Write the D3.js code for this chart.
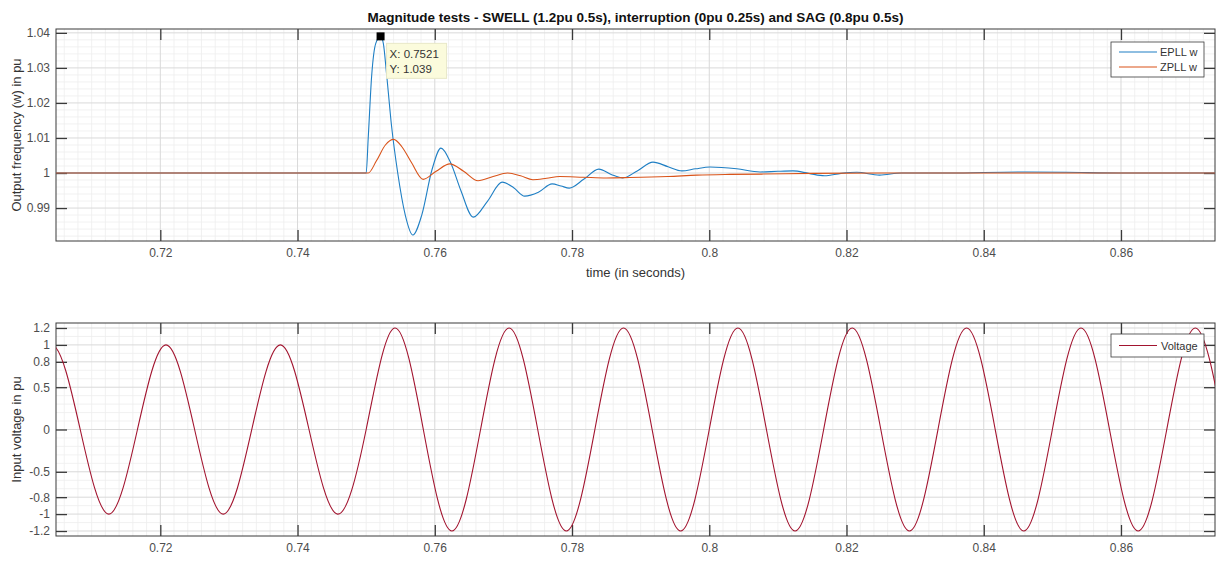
<!DOCTYPE html>
<html>
<head>
<meta charset="utf-8">
<script src="https://cdn.jsdelivr.net/npm/d3@7"></script>
<style>
  body { margin: 0; background: #fff; }
  svg { display: block; font-family: "Liberation Sans", Arial, sans-serif; }
</style>
</head>
<body>
<svg id="chart" width="1216" height="565"></svg>
<script>
// ---- data ----
const xDomain = [0.7048, 0.8737];
const xTicks = [0.72, 0.74, 0.76, 0.78, 0.8, 0.82, 0.84, 0.86];

const freqTicks = [0.99, 1, 1.01, 1.02, 1.03, 1.04];
const voltTicks = [-1.2, -1, -0.8, -0.5, 0, 0.5, 0.8, 1, 1.2];

const epllT = [0.7048, 0.7500, 0.7503, 0.7508, 0.7514, 0.7521, 0.7525, 0.7530, 0.7537, 0.7546, 0.7557, 0.7568,
    0.7581, 0.7596, 0.7609, 0.7623, 0.7638, 0.7656, 0.7677, 0.7698, 0.7715, 0.7731, 0.7751, 0.7771, 0.7784,
    0.7796, 0.7817, 0.7839, 0.7857, 0.7874, 0.7895, 0.7918, 0.7940, 0.7960, 0.7980, 0.8001, 0.8040, 0.8074,
    0.8100, 0.8122, 0.8145, 0.8168, 0.8192, 0.8215, 0.8248, 0.8280, 0.8350, 0.8450, 0.8520, 0.8600, 0.8737];
const epllW = [1, 1, 1.010, 1.0277, 1.037, 1.039, 1.037, 1.0277, 1.0134, 1.000, 0.9880, 0.9823,
    0.9880, 1.0010, 1.0071, 1.0030, 0.9950, 0.9874, 0.9920, 0.9974, 0.9958, 0.9934, 0.9945, 0.9969, 0.9963,
    0.9957, 0.9982, 1.0011, 0.9996, 0.9986, 1.0006, 1.0031, 1.0018, 1.0006, 1.0012, 1.0017, 1.0012, 1.0003,
    1.0005, 1.0006, 0.9999, 0.9992, 0.9999, 1.0002, 0.9994, 1.0000, 1.0000, 1.0003, 1.0002, 1.0000, 1.0000];

const zpllT = [0.7048, 0.7503, 0.7515, 0.7528, 0.7540, 0.7552, 0.7566, 0.7583, 0.7602, 0.7622, 0.7642, 0.7663,
    0.7685, 0.7706, 0.7725, 0.7743, 0.7763, 0.7782, 0.7816, 0.7850, 0.7884, 0.7940, 0.7982, 0.8030, 0.8078,
    0.8150, 0.8250, 0.8737];
const zpllW = [1, 1, 1.0035, 1.0080, 1.0096, 1.0075, 1.0030, 0.9982, 1.0005, 1.0026, 1.0005, 0.9978,
    0.9990, 1.0000, 0.9992, 0.9981, 0.9985, 0.9990, 0.9988, 0.9986, 0.9987, 0.9990, 0.9994, 0.9996, 0.9997,
    0.9999, 1.0000, 1.0000];

// voltage: peaks, troughs and zero crossings (60 Hz, swell to 1.2 pu after 0.75 s)
const voltT = [0.70000, 0.70417, 0.70833, 0.71250, 0.71667, 0.72083, 0.72500, 0.72917, 0.73333, 0.73750,
    0.74167, 0.74583, 0.75000, 0.75417, 0.75833, 0.76250, 0.76667, 0.77083, 0.77500, 0.77917, 0.78333,
    0.78750, 0.79167, 0.79583, 0.80000, 0.80417, 0.80833, 0.81250, 0.81667, 0.82083, 0.82500, 0.82917,
    0.83333, 0.83750, 0.84167, 0.84583, 0.85000, 0.85417, 0.85833, 0.86250, 0.86667, 0.87083, 0.87500];
const voltV = [0, 1, 0, -1, 0, 1, 0, -1, 0, 1,
    0, -1, 0, 1.2, 0, -1.2, 0, 1.2, 0, -1.2, 0,
    1.2, 0, -1.2, 0, 1.2, 0, -1.2, 0, 1.2, 0, -1.2,
    0, 1.2, 0, -1.2, 0, 1.2, 0, -1.2, 0, 1.2, 0];

const tipX = 0.7521, tipY = 1.039;

// ---- layout ----
const svg = d3.select("#chart");
const L = 56, R = 1215;
const TOP = { y0: 29, y1: 241, dom: [0.9806, 1.0411] };
const BOT = { y0: 323, y1: 536, dom: [-1.259, 1.259] };
const TICK = 11;
const fmt = d => String(+d.toFixed(3));

const x = d3.scaleLinear().domain(xDomain).range([L, R]);

function panel(p, yTicks, yMinorStep, id) {
    const y = d3.scaleLinear().domain(p.dom).range([p.y1, p.y0]);
    const g = svg.append("g");

    // minor grid
    const xMinor = d3.range(0.706, 0.874, 0.002).filter(v => Math.abs(v * 50 - Math.round(v * 50)) > 1e-6);
    const yMinor = d3.range(Math.ceil(p.dom[0] / yMinorStep) * yMinorStep, p.dom[1], yMinorStep)
        .filter(v => !yTicks.some(t => Math.abs(t - v) < yMinorStep / 3));
    g.selectAll(".xm").data(xMinor).join("line")
        .attr("x1", d => x(d)).attr("x2", d => x(d)).attr("y1", p.y0).attr("y2", p.y1)
        .attr("stroke", "#ededed").attr("stroke-width", 0.8);
    g.selectAll(".ym").data(yMinor).join("line")
        .attr("x1", L).attr("x2", R).attr("y1", d => y(d)).attr("y2", d => y(d))
        .attr("stroke", "#ededed").attr("stroke-width", 0.8);
    // major grid
    g.selectAll(".xg").data(xTicks).join("line")
        .attr("x1", d => x(d)).attr("x2", d => x(d)).attr("y1", p.y0).attr("y2", p.y1)
        .attr("stroke", "#d9d9d9");
    g.selectAll(".yg").data(yTicks).join("line")
        .attr("x1", L).attr("x2", R).attr("y1", d => y(d)).attr("y2", d => y(d))
        .attr("stroke", "#d9d9d9");

    svg.append("clipPath").attr("id", id).append("rect")
        .attr("x", L).attr("y", p.y0).attr("width", R - L).attr("height", p.y1 - p.y0);

    // axes with inward ticks on all four sides
    const ax = (axis, tx, ty) => {
        const a = svg.append("g").attr("transform", `translate(${tx},${ty})`).call(axis);
        a.select(".domain").remove();
        a.selectAll(".tick line").attr("stroke", "#3a3a3a").attr("stroke-width", 1.3);
        a.selectAll("text").attr("fill", "#4d4d4d").style("font-size", "12px");
        return a;
    };
    ax(d3.axisBottom(x).tickValues(xTicks).tickSize(-TICK).tickPadding(7).tickFormat(fmt), 0, p.y1);
    ax(d3.axisTop(x).tickValues(xTicks).tickSize(-TICK).tickFormat(""), 0, p.y0);
    ax(d3.axisLeft(y).tickValues(yTicks).tickSize(-TICK).tickPadding(6).tickFormat(fmt), L, 0);
    ax(d3.axisRight(y).tickValues(yTicks).tickSize(-TICK).tickFormat(""), R, 0);

    svg.append("rect").attr("x", L).attr("y", p.y0).attr("width", R - L).attr("height", p.y1 - p.y0)
        .attr("fill", "none").attr("stroke", "#3a3a3a").attr("stroke-width", 1);
    return y;
}

// ---- top panel ----
const yTop = panel(TOP, freqTicks, 0.002, "clipTop");
const lineTop = d3.line().x(d => x(d[0])).y(d => yTop(d[1])).curve(d3.curveMonotoneX);
const plotTop = svg.append("g").attr("clip-path", "url(#clipTop)");
plotTop.append("path").datum(d3.zip(epllT, epllW)).attr("d", lineTop)
    .attr("fill", "none").attr("stroke", "#1f7fc4").attr("stroke-width", 1.1);
plotTop.append("path").datum(d3.zip(zpllT, zpllW)).attr("d", lineTop)
    .attr("fill", "none").attr("stroke", "#D95319").attr("stroke-width", 1.1);

// data tip
svg.append("rect").attr("x", x(tipX) - 4).attr("y", yTop(tipY) - 4).attr("width", 8).attr("height", 8).attr("fill", "#000");
const tip = svg.append("g").attr("transform", `translate(${x(tipX) + 6},${yTop(tipY) + 7})`);
tip.append("rect").attr("width", 60).attr("height", 35).attr("fill", "#fbfbdc").attr("stroke", "#e8e8c8");
tip.append("text").attr("x", 3).attr("y", 15).attr("fill", "#333").style("font-size", "11.5px").text("X: " + tipX);
tip.append("text").attr("x", 3).attr("y", 30).attr("fill", "#333").style("font-size", "11.5px").text("Y: " + tipY);

svg.append("text").attr("x", (L + R) / 2).attr("y", 22).attr("text-anchor", "middle")
    .style("font-size", "13.5px").style("font-weight", "bold").attr("fill", "#111")
    .text("Magnitude tests - SWELL (1.2pu 0.5s), interruption (0pu 0.25s) and SAG (0.8pu 0.5s)");
svg.append("text").attr("x", (L + R) / 2).attr("y", 277).attr("text-anchor", "middle")
    .style("font-size", "13px").attr("fill", "#333").text("time (in seconds)");
svg.append("text").attr("transform", `translate(21,${(TOP.y0 + TOP.y1) / 2}) rotate(-90)`)
    .attr("text-anchor", "middle").style("font-size", "13px").attr("fill", "#333")
    .text("Output frequency (w) in pu");

// legend top
const legTop = svg.append("g").attr("transform", "translate(1111,42)");
legTop.append("rect").attr("width", 93).attr("height", 35).attr("fill", "#fff").attr("stroke", "#3a3a3a").attr("stroke-width", 0.8);
[["EPLL w", "#1f7fc4"], ["ZPLL w", "#D95319"]].forEach(([name, c], i) => {
    const yy = 10 + i * 15;
    legTop.append("line").attr("x1", 8).attr("x2", 46).attr("y1", yy).attr("y2", yy).attr("stroke", c).attr("stroke-width", 1.2);
    legTop.append("text").attr("x", 49).attr("y", yy + 4).style("font-size", "11px").attr("fill", "#333").text(name);
});

// ---- bottom panel ----
const yBot = panel(BOT, voltTicks, 0.1, "clipBot");
const lineBot = d3.line().x(d => x(d[0])).y(d => yBot(d[1])).curve(d3.curveNatural);
svg.append("g").attr("clip-path", "url(#clipBot)").append("path")
    .datum(d3.zip(voltT, voltV)).attr("d", lineBot)
    .attr("fill", "none").attr("stroke", "#A2142F").attr("stroke-width", 1.1);

svg.append("text").attr("transform", `translate(21,${(BOT.y0 + BOT.y1) / 2}) rotate(-90)`)
    .attr("text-anchor", "middle").style("font-size", "13px").attr("fill", "#333")
    .text("Input voltage in pu");

const legBot = svg.append("g").attr("transform", "translate(1111,334)");
legBot.append("rect").attr("width", 93).attr("height", 23).attr("fill", "#fff").attr("stroke", "#3a3a3a").attr("stroke-width", 0.8);
legBot.append("line").attr("x1", 8).attr("x2", 46).attr("y1", 11.5).attr("y2", 11.5).attr("stroke", "#A2142F").attr("stroke-width", 1.2);
legBot.append("text").attr("x", 50).attr("y", 15.5).style("font-size", "11px").attr("fill", "#333").text("Voltage");
</script>
</body>
</html>
